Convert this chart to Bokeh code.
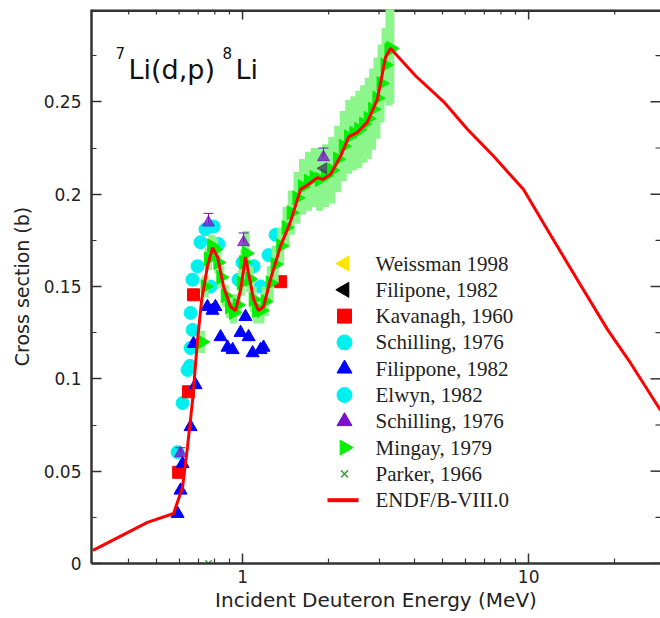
import numpy as np
from bokeh.plotting import figure
from bokeh.models import (Range1d, LinearScale, FixedTicker, CustomJSTickFormatter,
                          ColumnDataSource)
from bokeh.core.properties import value
from bokeh.embed import file_html
from bokeh.resources import INLINE

# ---------------- data ----------------
endf_e = [0.30, 0.465, 0.574, 0.617, 0.642, 0.669, 0.696, 0.72, 0.754, 0.785, 0.818,
          0.858, 0.908, 0.945, 0.984, 1.024, 1.05, 1.093, 1.137, 1.184, 1.253, 1.358,
          1.47, 1.595, 1.687, 1.83, 1.903, 2.03, 2.2, 2.35, 2.52, 2.73, 2.96, 3.16,
          3.29, 3.48, 4.03, 5.05, 6.12, 7.55, 9.6, 11.6, 14.8, 18.9, 22.7, 28.9]
endf_xs = [0.0071, 0.0223, 0.0271, 0.0413, 0.063, 0.0885, 0.121, 0.143, 0.161, 0.171, 0.166,
           0.150, 0.139, 0.137, 0.148, 0.166, 0.157, 0.143, 0.137, 0.139, 0.154, 0.172,
           0.185, 0.2026, 0.205, 0.209, 0.208, 0.2107, 0.2205, 0.231, 0.2335, 0.239, 0.2514, 0.274,
           0.279, 0.2748, 0.264, 0.250, 0.235, 0.2205, 0.2025, 0.181, 0.1537, 0.1265, 0.1086, 0.083]

mingay_e = [0.72, 0.74, 0.76, 0.78, 0.80, 0.82, 0.84, 0.87, 0.90, 0.93, 0.96, 0.99, 1.01,
            1.03, 1.06, 1.09, 1.12, 1.16, 1.20, 1.25, 1.30, 1.36, 1.42, 1.48, 1.55, 1.62,
            1.70, 1.78, 1.86, 1.95, 2.05, 2.15, 2.25, 2.35, 2.45, 2.55, 2.65, 2.75, 2.85,
            2.95, 3.05, 3.15, 3.25, 3.30]
mingay_xs = [0.120, 0.150, 0.165, 0.172, 0.170, 0.163, 0.155, 0.145, 0.139, 0.136, 0.140,
             0.152, 0.163, 0.168, 0.154, 0.143, 0.137, 0.137, 0.142, 0.152, 0.162, 0.172,
             0.182, 0.190, 0.198, 0.204, 0.207, 0.209, 0.208, 0.210, 0.213, 0.219, 0.226,
             0.231, 0.233, 0.235, 0.238, 0.241, 0.246, 0.252, 0.260, 0.270, 0.278, 0.279]
mingay_err = [0.006, 0.006, 0.006, 0.006, 0.006, 0.006, 0.006, 0.006, 0.006, 0.006, 0.006,
              0.007, 0.007, 0.012, 0.007, 0.007, 0.007, 0.007, 0.008, 0.009, 0.010, 0.010,
              0.011, 0.012, 0.014, 0.015, 0.016, 0.016, 0.017, 0.017, 0.018, 0.018, 0.019,
              0.020, 0.020, 0.021, 0.021, 0.022, 0.022, 0.022, 0.021, 0.020, 0.030, 0.030]

kavanagh_e = [0.598, 0.647, 0.674, 1.358]
kavanagh_xs = [0.0494, 0.093, 0.1455, 0.1526]

schilling_c_e = [0.668, 0.696, 0.713, 0.742, 0.792, 0.824, 0.773, 0.968, 1.0, 1.093, 1.156]
schilling_c_xs = [0.1537, 0.161, 0.174, 0.181, 0.1825, 0.173, 0.150, 0.1537, 0.163, 0.161, 0.150]

elwyn_e = [0.593, 0.617, 0.642, 0.658, 0.658, 0.669, 0.655, 1.233, 1.304]
elwyn_xs = [0.0603, 0.0869, 0.1048, 0.1167, 0.1357, 0.1265, 0.107, 0.167, 0.178]

filippone_e = [0.593, 0.607, 0.617, 0.658, 0.685, 0.674, 0.754, 0.785, 0.804, 0.838, 0.886,
               0.923, 0.984, 1.024, 1.05, 1.084, 1.156, 1.184]
filippone_xs = [0.027, 0.0396, 0.054, 0.074, 0.0967, 0.119, 0.139, 0.137, 0.139, 0.1227, 0.117,
                0.1157, 0.125, 0.1336, 0.1227, 0.114, 0.1157, 0.117]

schilling_t_e = [0.607, 0.76, 1.008, 1.918]
schilling_t_xs = [0.0597, 0.1846, 0.174, 0.220]
schilling_t_err = [0.003, 0.005, 0.005, 0.005]

weissman_e = [1.70, 2.60]
weissman_xs = [0.207, 0.236]

filipone_e = [1.918]
filipone_xs = [0.214]

parker_e = [0.76]
parker_xs = [0.0]

x_major = [1, 10]
x_minor = [0.4, 0.5, 0.6, 0.7, 0.8, 0.9, 2, 3, 4, 5, 6, 7, 8, 9, 20]
y_major = [0, 0.05, 0.1, 0.15, 0.2, 0.25]
y_minor = [0.025, 0.075, 0.125, 0.175, 0.225, 0.275]

legend_labels = ["Weissman 1998", "Filipone, 1982", "Kavanagh, 1960", "Schilling, 1976",
                 "Filippone, 1982", "Elwyn, 1982", "Schilling, 1976", "Mingay, 1979",
                 "Parker, 1966", "ENDF/B-VIII.0"]

# ---------------- figure ----------------
FW, FH = 569, 554  # frame size in px
p = figure(width=660, height=618, x_axis_type="log",
           x_range=Range1d(0.2965, 28.9), y_range=Range1d(0, 0.3),
           output_backend="svg", toolbar_location=None,
           min_border_left=91, min_border_right=0, min_border_top=9, min_border_bottom=55,
           outline_line_color=None, background_fill_color="white", border_fill_color="white")
p.grid.visible = False
p.extra_x_ranges = {"px": Range1d(0, FW)}
p.extra_x_scales = {"px": LinearScale()}
p.extra_y_ranges = {"px": Range1d(FH, 0)}
p.extra_y_scales = {"px": LinearScale()}

AX = "#333333"
TICK_FONT = "DejaVu Sans"

def style_axis(ax):
    ax.axis_line_color = AX
    ax.axis_line_width = 2.5
    ax.major_tick_line_color = AX
    ax.minor_tick_line_color = AX
    ax.major_tick_line_width = 1.5
    ax.minor_tick_line_width = 1.2
    ax.major_tick_in = 10
    ax.major_tick_out = 0
    ax.minor_tick_in = 5
    ax.minor_tick_out = 0
    ax.major_label_text_font = TICK_FONT
    ax.major_label_text_font_size = "17px"
    ax.major_label_text_color = "#222222"

fmt = CustomJSTickFormatter(code="return String(Math.round(tick*1000)/1000);")

xa = p.xaxis[0]
xa.ticker = FixedTicker(ticks=x_major, minor_ticks=x_minor)
xa.formatter = fmt
style_axis(xa)
xa.major_label_standoff = 6
xa.axis_label = "Incident Deuteron Energy (MeV)"
xa.axis_label_text_font = "DejaVu Sans"
xa.axis_label_text_font_size = "20px"
xa.axis_label_text_font_style = "normal"
xa.axis_label_text_color = "#222222"
xa.axis_label_standoff = 2

ya = p.yaxis[0]
ya.ticker = FixedTicker(ticks=y_major, minor_ticks=y_minor)
ya.formatter = fmt
style_axis(ya)
ya.major_label_standoff = 10
ya.axis_label = "Cross section (b)"
ya.axis_label_text_font = "DejaVu Sans"
ya.axis_label_text_font_size = "19px"
ya.axis_label_text_font_style = "normal"
ya.axis_label_text_color = "#222222"
ya.axis_label_standoff = 8

# top frame line and inward ticks on top / right (no labels)
p.segment(x0=[0], y0=[0], x1=[FW], y1=[0], x_range_name="px", y_range_name="px",
          line_color=AX, line_width=5)
p.segment(x0=x_major, y0=[0] * len(x_major), x1=x_major, y1=[10] * len(x_major),
          y_range_name="px", line_color=AX, line_width=1.5)
p.segment(x0=x_minor, y0=[0] * len(x_minor), x1=x_minor, y1=[5] * len(x_minor),
          y_range_name="px", line_color=AX, line_width=1.2)
p.segment(x0=[FW] * len(y_major), y0=y_major, x1=[FW - 10] * len(y_major), y1=y_major,
          x_range_name="px", line_color=AX, line_width=1.5)
p.segment(x0=[FW] * len(y_minor), y0=y_minor, x1=[FW - 5] * len(y_minor), y1=y_minor,
          x_range_name="px", line_color=AX, line_width=1.2)

# ---------------- data glyphs ----------------
CYAN, BLUE, RED, PURPLE = "#00F0F0", "#0000FF", "#FF0000", "#7A10C8"
GREEN, LGREEN, XGREEN = "#00F000", "#8CF58C", "#3FA03F"

p.scatter(weissman_e, weissman_xs, marker="triangle", angle=np.pi / 2, size=12,
          color="#FFE600")
p.scatter(elwyn_e, elwyn_xs, marker="circle", size=13, color=CYAN)
p.scatter(schilling_c_e, schilling_c_xs, marker="circle", size=13, color=CYAN)
p.scatter(kavanagh_e, kavanagh_xs, marker="square", size=12, color=RED)
p.scatter(filippone_e, filippone_xs, marker="triangle", size=13, color=BLUE)

msrc = ColumnDataSource(dict(e=mingay_e, xs=mingay_xs,
                             lo=[v - d for v, d in zip(mingay_xs, mingay_err)],
                             hi=[v + d for v, d in zip(mingay_xs, mingay_err)]))
p.segment(x0="e", y0="lo", x1="e", y1="hi", source=msrc, line_color=LGREEN, line_width=7)
p.scatter(x="e", y="xs", source=msrc, marker="triangle", angle=-np.pi / 2, size=14,
          color=GREEN)

ssrc = ColumnDataSource(dict(e=schilling_t_e, xs=schilling_t_xs,
                             hi=[v + d for v, d in zip(schilling_t_xs, schilling_t_err)]))
p.segment(x0="e", y0="xs", x1="e", y1="hi", source=ssrc, line_color=PURPLE, line_width=1)
p.scatter(x="e", y="hi", source=ssrc, marker="dash", size=10, line_color=PURPLE, line_width=1)
p.scatter(filipone_e, filipone_xs, marker="triangle", angle=np.pi / 2, size=11,
          color="#404060", alpha=0.8)
p.scatter(x="e", y="xs", source=ssrc, marker="triangle", size=12, color=PURPLE, alpha=0.75)
p.scatter(parker_e, parker_xs, marker="x", size=9, line_color=XGREEN, line_width=1.5)

p.line(endf_e, endf_xs, line_color=RED, line_width=3)

# ---------------- title (in frame pixel coords, vertically centred) ----------------
tfont = value("DejaVu Sans")
p.text(x=[24], y=[43], text=["7"], x_range_name="px", y_range_name="px",
       text_font=tfont, text_font_size="15px", text_color="#111111",
       text_align="left", text_baseline="middle")
p.text(x=[37], y=[60], text=["Li(d,p)"], x_range_name="px", y_range_name="px",
       text_font=tfont, text_font_size="27px", text_color="#111111",
       text_align="left", text_baseline="middle")
p.text(x=[131], y=[43], text=["8"], x_range_name="px", y_range_name="px",
       text_font=tfont, text_font_size="15px", text_color="#111111",
       text_align="left", text_baseline="middle")
p.text(x=[144], y=[60], text=["Li"], x_range_name="px", y_range_name="px",
       text_font=tfont, text_font_size="27px", text_color="#111111",
       text_align="left", text_baseline="middle")

# ---------------- legend (drawn in frame pixel coords) ----------------
rows = 254 + 26.3 * np.arange(len(legend_labels))
mx, tx = 253, 284
leg_markers = [("triangle", "#FFE600", np.pi / 2), ("triangle", "#000000", np.pi / 2),
               ("square", RED, 0), ("circle", CYAN, 0), ("triangle", BLUE, 0),
               ("circle", CYAN, 0), ("triangle", PURPLE, 0), ("triangle", GREEN, -np.pi / 2)]
for i, (mk, col, ang) in enumerate(leg_markers):
    p.scatter([mx], [rows[i]], x_range_name="px", y_range_name="px", marker=mk,
              size=15 if mk != "square" else 14, color=col, angle=ang)
p.scatter([mx], [rows[8]], x_range_name="px", y_range_name="px", marker="x", size=10,
          line_color=XGREEN, line_width=1.5)
p.segment(x0=[mx - 17], y0=[rows[9]], x1=[mx + 14], y1=[rows[9]], x_range_name="px",
          y_range_name="px", line_color=RED, line_width=4)
p.text(x=[tx] * len(legend_labels), y=list(rows), text=legend_labels,
       x_range_name="px", y_range_name="px", text_font=value("Liberation Serif"),
       text_font_size="21px", text_color="#222222", text_align="left",
       text_baseline="middle")

open("out.html", "w").write(file_html(p, INLINE))
